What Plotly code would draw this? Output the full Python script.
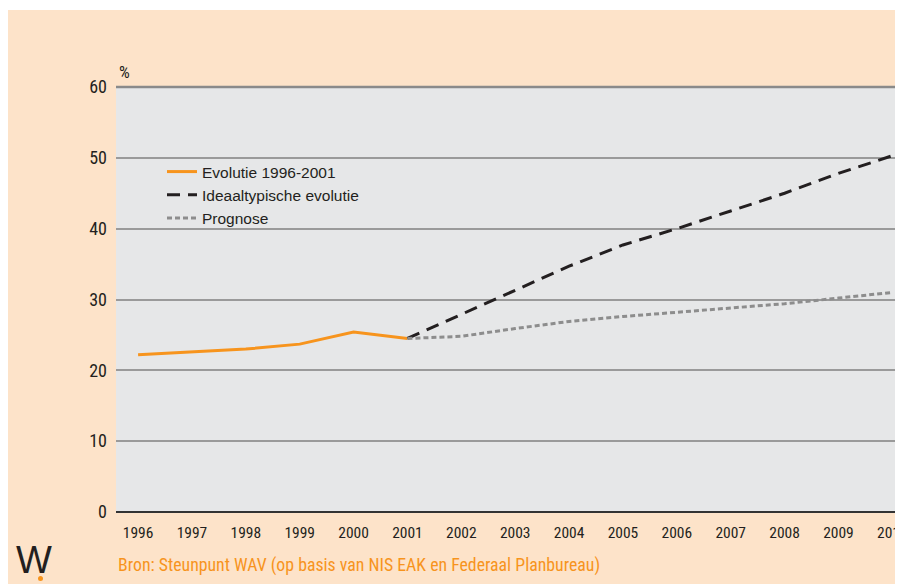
import plotly.graph_objects as go

years_hist = [1996, 1997, 1998, 1999, 2000, 2001]
evolutie = [22.2, 22.6, 23.0, 23.7, 25.4, 24.5]
years_proj = [2001, 2002, 2003, 2004, 2005, 2006, 2007, 2008, 2009, 2010]
ideaal = [24.5, 27.9, 31.4, 34.7, 37.7, 40.0, 42.5, 45.0, 47.8, 50.3]
prognose = [24.5, 24.8, 25.9, 26.9, 27.6, 28.2, 28.7, 29.4, 30.2, 31.0]
x_ticks = list(range(1996, 2011))
y_ticks = [0, 10, 20, 30, 40, 50, 60]

PEACH = "#fde3c9"
NARROW = "Roboto Condensed, Noto Sans Condensed, Liberation Sans Narrow, Arial Narrow, Liberation Sans, Arial"
REG = "Liberation Sans, Arial"

fig = go.Figure()
fig.add_trace(go.Scatter(x=years_hist, y=evolutie, mode="lines", name="Evolutie 1996-2001",
                         line=dict(color="#f7941d", width=3)))
fig.add_trace(go.Scatter(x=years_proj, y=ideaal, mode="lines", name="Ideaaltypische evolutie",
                         line=dict(color="#231f20", width=3, dash="13px,8px")))
fig.add_trace(go.Scatter(x=years_proj, y=prognose, mode="lines", name="Prognose",
                         line=dict(color="#8d8d8d", width=3, dash="5px,3px")))

# figure is placed at (8, 8) in the page; coordinates below are figure pixels
W, H = 887, 576
L, T, B = 108, 79, 72
pw = W - L
ph = H - T - B


def px(x):
    return (x - L) / pw


def py(y):
    return (H - B - y) / ph


fig.update_layout(
    width=W, height=H,
    margin=dict(l=L, r=0, t=T, b=B, pad=0, autoexpand=False),
    paper_bgcolor=PEACH,
    plot_bgcolor="#e6e7e8",
    showlegend=True,
    legend=dict(x=px(154), y=py(147), xanchor="left", yanchor="top",
                bgcolor="rgba(0,0,0,0)", font=dict(family=REG, size=15.5, color="#231f20"),
                itemwidth=30, tracegroupgap=0),
    xaxis=dict(range=[1995.59, 2010.05], tickvals=x_ticks, ticktext=[str(v) for v in x_ticks],
               showgrid=False, zeroline=False, showline=False, ticks="",
               ticklabeloverflow="allow", automargin=False,
               tickfont=dict(family=NARROW, size=15.5, color="#231f20"), ticklabelstandoff=9),
    yaxis=dict(range=[0, 60], tickvals=y_ticks, showgrid=True, gridcolor="#9a9a9a", gridwidth=1.5,
               zeroline=True, zerolinecolor="#333333", zerolinewidth=2,
               showline=False, ticks="", automargin=False,
               tickfont=dict(family=NARROW, size=18, color="#231f20"), ticklabelstandoff=8),
    shapes=[
        dict(type="rect", xref="paper", yref="paper", x0=px(-2), x1=1.01,
             y0=py(2), y1=py(-2), fillcolor="white", line=dict(width=0), layer="above"),
        dict(type="line", xref="paper", yref="paper", x0=0, x1=1, y0=1, y1=1,
             line=dict(color="#8a8a8a", width=2.5)),
        dict(type="circle", xref="paper", yref="paper", x0=px(30), x1=px(35),
             y0=py(573), y1=py(568), fillcolor="#f7941d", line=dict(width=0), layer="above"),
    ],
    annotations=[
        dict(text="%", xref="paper", yref="paper", x=px(109), y=py(64),
             xanchor="left", yanchor="middle", showarrow=False,
             font=dict(family=NARROW, size=17, color="#231f20")),
        dict(text="Bron: Steunpunt WAV (op basis van NIS EAK en Federaal Planbureau)",
             xref="paper", yref="paper", x=px(108), y=py(557),
             xanchor="left", yanchor="middle", showarrow=False,
             font=dict(family=NARROW, size=17.8, color="#f7941d")),
        dict(text="W", xref="paper", yref="paper", x=px(26), y=py(575),
             xanchor="center", yanchor="bottom", showarrow=False,
             font=dict(family=REG, size=38, color="#231f20")),
    ],
)

fig.write_html("out.html")
